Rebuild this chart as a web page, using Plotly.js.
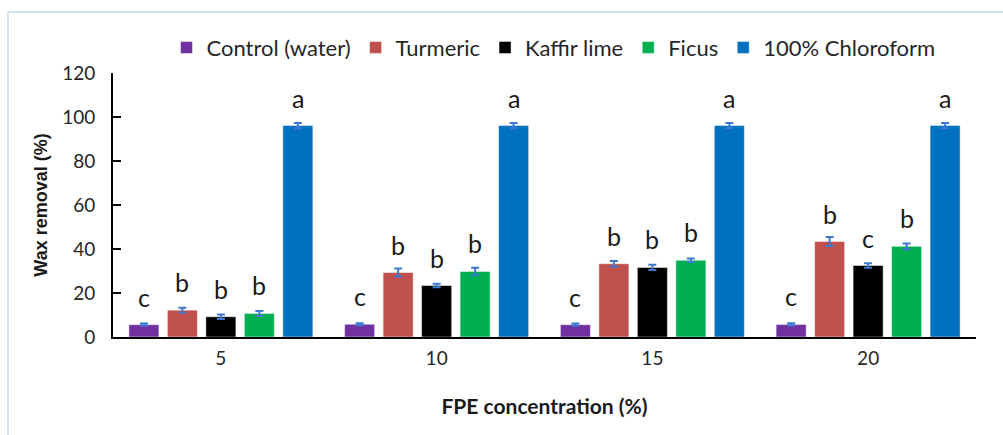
<!DOCTYPE html>
<html>
<head>
<meta charset="utf-8">
<script src="https://cdn.plot.ly/plotly-3.0.1.min.js"></script>
<style>html,body{margin:0;padding:0;background:#fff;}#chart{width:1003px;height:435px;}</style>
</head>
<body>
<div id="chart"></div>
<script>
// ---- data ----
const categories = ["5", "10", "15", "20"];
const seriesNames = ["Control (water)", "Turmeric", "Kaffir lime", "Ficus", "100% Chloroform"];
const controlValues = [5.6, 5.8, 5.6, 5.7];
const turmericValues = [12.2, 29.3, 33.3, 43.4];
const kaffirValues = [9.2, 23.4, 31.6, 32.5];
const ficusValues = [10.7, 29.8, 34.9, 41.2];
const chloroformValues = [96.1, 96.1, 96.1, 96.1];
const controlErrors = [0.5, 0.5, 0.5, 0.5];
const turmericErrors = [1.1, 1.8, 1.2, 2.0];
const kaffirErrors = [1.0, 0.8, 1.2, 1.0];
const ficusErrors = [1.1, 1.7, 0.8, 1.3];
const chloroformErrors = [1.2, 1.2, 1.2, 1.2];
const controlLetters = ["c", "c", "c", "c"];
const turmericLetters = ["b", "b", "b", "b"];
const kaffirLetters = ["b", "b", "b", "c"];
const ficusLetters = ["b", "b", "b", "b"];
const chloroformLetters = ["a", "a", "a", "a"];
const yTicks = [0, 20, 40, 60, 80, 100, 120];

// ---- styles ----
const colors = ["#7030A0", "#C0504D", "#000000", "#00B050", "#0070C0"];
const values = [controlValues, turmericValues, kaffirValues, ficusValues, chloroformValues];
const errors = [controlErrors, turmericErrors, kaffirErrors, ficusErrors, chloroformErrors];
const letters = [controlLetters, turmericLetters, kaffirLetters, ficusLetters, chloroformLetters];

const W = 1003, H = 435;
const margin = {l: 113, r: 27, t: 73, b: 98, pad: 0};
const bargap = 0.108, bargroupgap = 0.22;
const plotW = W - margin.l - margin.r;
const plotH = H - margin.t - margin.b;
const catW = plotW / categories.length;
const slotW = catW * (1 - bargap) / seriesNames.length;

const traces = seriesNames.map((name, i) => ({
  type: "bar",
  name: name,
  x: categories,
  y: values[i],
  marker: {color: colors[i], line: {color: "rgba(255,255,255,0.6)", width: 0.8}},
  error_y: {type: "data", array: errors[i], visible: true, color: "#3E78D0", thickness: 2, width: 4},
  hoverinfo: "x+y+name"
}));

const annotations = [];
seriesNames.forEach((name, i) => {
  categories.forEach((c, j) => {
    annotations.push({
      x: j, y: values[i][j], xref: "x", yref: "y",   // category index j
      text: letters[i][j], showarrow: false,
      xshift: (i - (seriesNames.length - 1) / 2) * slotW,
      yshift: 28, yanchor: "middle",
      font: {family: "Lato, 'Open Sans', sans-serif", size: 25, color: "#1a1a1a"}
    });
  });
});

const shapes = [
  {type: "line", xref: "paper", yref: "paper",
   x0: (8 - margin.l) / plotW, x1: (W - margin.l) / plotW,
   y0: (H - margin.b - 12) / plotH, y1: (H - margin.b - 12) / plotH,
   line: {color: "#D5E2F2", width: 2}},
  {type: "line", xref: "paper", yref: "paper",
   x0: (8 - margin.l) / plotW, x1: (8 - margin.l) / plotW,
   y0: (H - margin.b - 12) / plotH, y1: (H - margin.b - H) / plotH,
   line: {color: "#D5E2F2", width: 2}}
];

const layout = {
  width: W, height: H,
  margin: margin,
  paper_bgcolor: "#ffffff", plot_bgcolor: "#ffffff",
  barmode: "group", bargap: bargap, bargroupgap: bargroupgap,
  showlegend: true,
  legend: {orientation: "h", x: 0.062, xanchor: "left", y: 1.096, yanchor: "middle",
           font: {family: "Lato, 'Open Sans', sans-serif", size: 22, color: "#262626"},
           itemwidth: 30, tracegroupgap: 0, bgcolor: "rgba(0,0,0,0)"},
  xaxis: {
    type: "category", range: [-0.5, categories.length - 0.5], autorange: false,
    showline: true, linecolor: "#000", linewidth: 2,
    ticks: "", showgrid: false, zeroline: false,
    tickfont: {family: "Lato, 'Open Sans', sans-serif", size: 19, color: "#262626"},
    ticklabelstandoff: 3,
    title: {text: "FPE concentration (%)", standoff: 32,
            font: {family: "Lato, 'Open Sans', sans-serif", size: 21, color: "#1a1a1a", weight: "bold"}},
    automargin: false
  },
  yaxis: {
    range: [0, 120], autorange: false, tickvals: yTicks, showline: true, linecolor: "#000", linewidth: 2,
    ticks: "inside", ticklen: 8, tickwidth: 2, tickcolor: "#000",
    showgrid: false, zeroline: false,
    tickfont: {family: "Lato, 'Open Sans', sans-serif", size: 19, color: "#262626"},
    ticklabelstandoff: 12,
    title: {text: "Wax removal (%)", standoff: 10,
            font: {family: "'Liberation Sans', Arial, sans-serif", size: 18, color: "#1a1a1a", weight: "bold"}},
    automargin: false
  },
  annotations: annotations,
  shapes: shapes
};

Plotly.newPlot("chart", traces, layout, {displayModeBar: false, responsive: false});
</script>
</body>
</html>
